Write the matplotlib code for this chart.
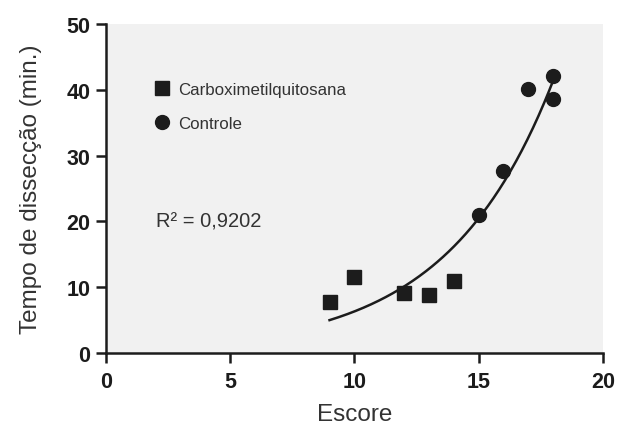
import numpy as np
import matplotlib
matplotlib.use("Agg")
import matplotlib.pyplot as plt

# Data
carboxi_x = [9, 10, 12, 13, 14]
carboxi_y = [7.7, 11.6, 9.1, 8.8, 11.0]
controle_x = [15, 16, 17, 18, 18]
controle_y = [21.0, 27.6, 40.2, 42.1, 38.6]

# Exponential fit y = A * exp(B * x), parameters
fit_A = 0.602
fit_B = 0.2351
fit_range = (9, 18)
r2_text = "R\u00b2 = 0,9202"

x_ticks = [0, 5, 10, 15, 20]
y_ticks = [0, 10, 20, 30, 40, 50]

plt.rcParams["font.family"] = ["Liberation Sans", "DejaVu Sans"]

fig = plt.figure(figsize=(6.19, 4.27), dpi=100)
ax = fig.add_axes([0.171, 0.171, 0.803, 0.770])
ax.set_facecolor("#f1f1f1")

ink = "#1c1c1c"
ax.plot(carboxi_x, carboxi_y, "s", color=ink, markersize=9.5,
        label="Carboximetilquitosana", linestyle="none")
ax.plot(controle_x, controle_y, "o", color=ink, markersize=10,
        label="Controle", linestyle="none")

xf = np.linspace(fit_range[0], fit_range[1], 200)
ax.plot(xf, fit_A * np.exp(fit_B * xf), color=ink, linewidth=1.8)

ax.text(2.0, 20.1, r2_text, fontsize=14.5, color="#333333", va="center")

leg = ax.legend(loc="upper left", bbox_to_anchor=(0.085, 0.845), frameon=False,
                fontsize=12.2, handlelength=0.8, handletextpad=0.6,
                labelspacing=1.15, borderaxespad=0)
for t in leg.get_texts():
    t.set_color("#333333")

ax.set_xlim(0, 20)
ax.set_ylim(0, 50)
ax.set_xticks(x_ticks)
ax.set_yticks(y_ticks)
ax.set_xlabel("Escore", fontsize=17.5, color="#333333", labelpad=8)
ax.set_ylabel("Tempo de dissecção (min.)", fontsize=17.5, color="#333333",
              labelpad=18)

for side in ["top", "right"]:
    ax.spines[side].set_visible(False)
for side in ["left", "bottom"]:
    ax.spines[side].set_linewidth(1.8)
    ax.spines[side].set_color(ink)

ax.tick_params(axis="both", length=7, width=1.8, color=ink,
               labelsize=15.5, labelcolor=ink)
ax.tick_params(axis="x", pad=6)
ax.tick_params(axis="y", pad=4)
for lbl in ax.get_xticklabels() + ax.get_yticklabels():
    lbl.set_fontweight("bold")

fig.savefig("out.png", dpi=100)
